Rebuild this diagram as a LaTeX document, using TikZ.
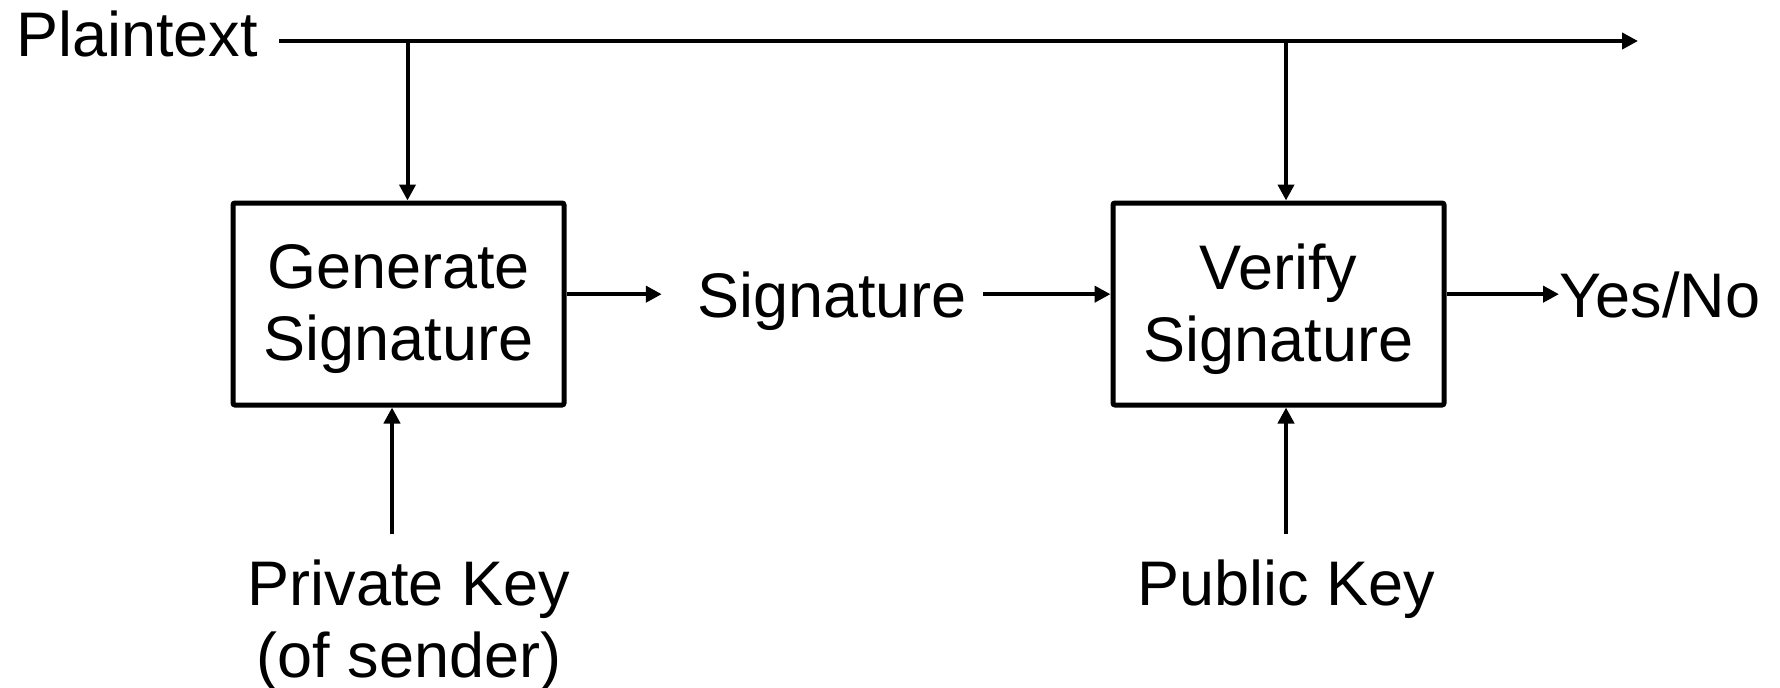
\documentclass[tikz,border=0pt]{standalone}
\usepackage{fontspec}
\setmainfont{Liberation Sans}
\usetikzlibrary{arrows.meta, positioning}

\begin{document}
\begin{tikzpicture}[x=1pt, y=1pt,
  every node/.style={font=\fontsize{31.5}{36}\selectfont},
  sigbox/.style={draw, line width=2.5pt, rounded corners=1pt, minimum width=165.5pt, minimum height=101pt, align=center, inner sep=0pt, text depth=1.6pt},
  lbl/.style={inner sep=0pt, align=center},
  flow/.style={line width=2pt, -{Triangle[length=8pt, width=8pt]}}
]
  \useasboundingbox (0,0) rectangle (890,343.5);

  % inputs and outputs
  \node[lbl, anchor=base west] (plain) at (8,315) {Plaintext};
  \node[lbl, text depth=0pt, anchor=base] (sig) at (416,185) {Signature};
  \node[lbl, text depth=0pt, anchor=base west] (yn) at (779.5,185) {Yes/No};
  \node[lbl] (priv) at (204.5,31) {Private Key\\(of sender)};
  \node[lbl, anchor=base] (pub) at (643,41) {Public Key};

  % the two steps
  \node[sigbox] (gen) at (199.25,191.5) {Generate\\Signature};
  \node[sigbox] (ver) at (639.25,191.5) {Verify\\Signature};

  \coordinate (ptstart) at (139.5,323);
  \coordinate (ptend) at (819,323);
  \coordinate (tapgen) at (203.75,323);
  \coordinate (tapver) at (643,323);
  \coordinate (privtop) at (196,76.5);
  \coordinate (pubtop) at (643,76.5);

  \draw[flow] (ptstart) -- (ptend);
  \draw[flow] (tapgen) -- (tapgen |- gen.north);
  \draw[flow] (tapver) -- (tapver |- ver.north);
  \draw[flow] (privtop) -- (privtop |- gen.south);
  \draw[flow] (pubtop) -- (pubtop |- ver.south);

  \draw[flow] (gen.east |- sig.west) -- ([xshift=-17.5pt]sig.west);
  \draw[flow] ([xshift=8pt]sig.east) -- (ver.west |- sig.east);
  \draw[flow] (ver.east |- yn.west) -- (yn.west);
\end{tikzpicture}
\end{document}
